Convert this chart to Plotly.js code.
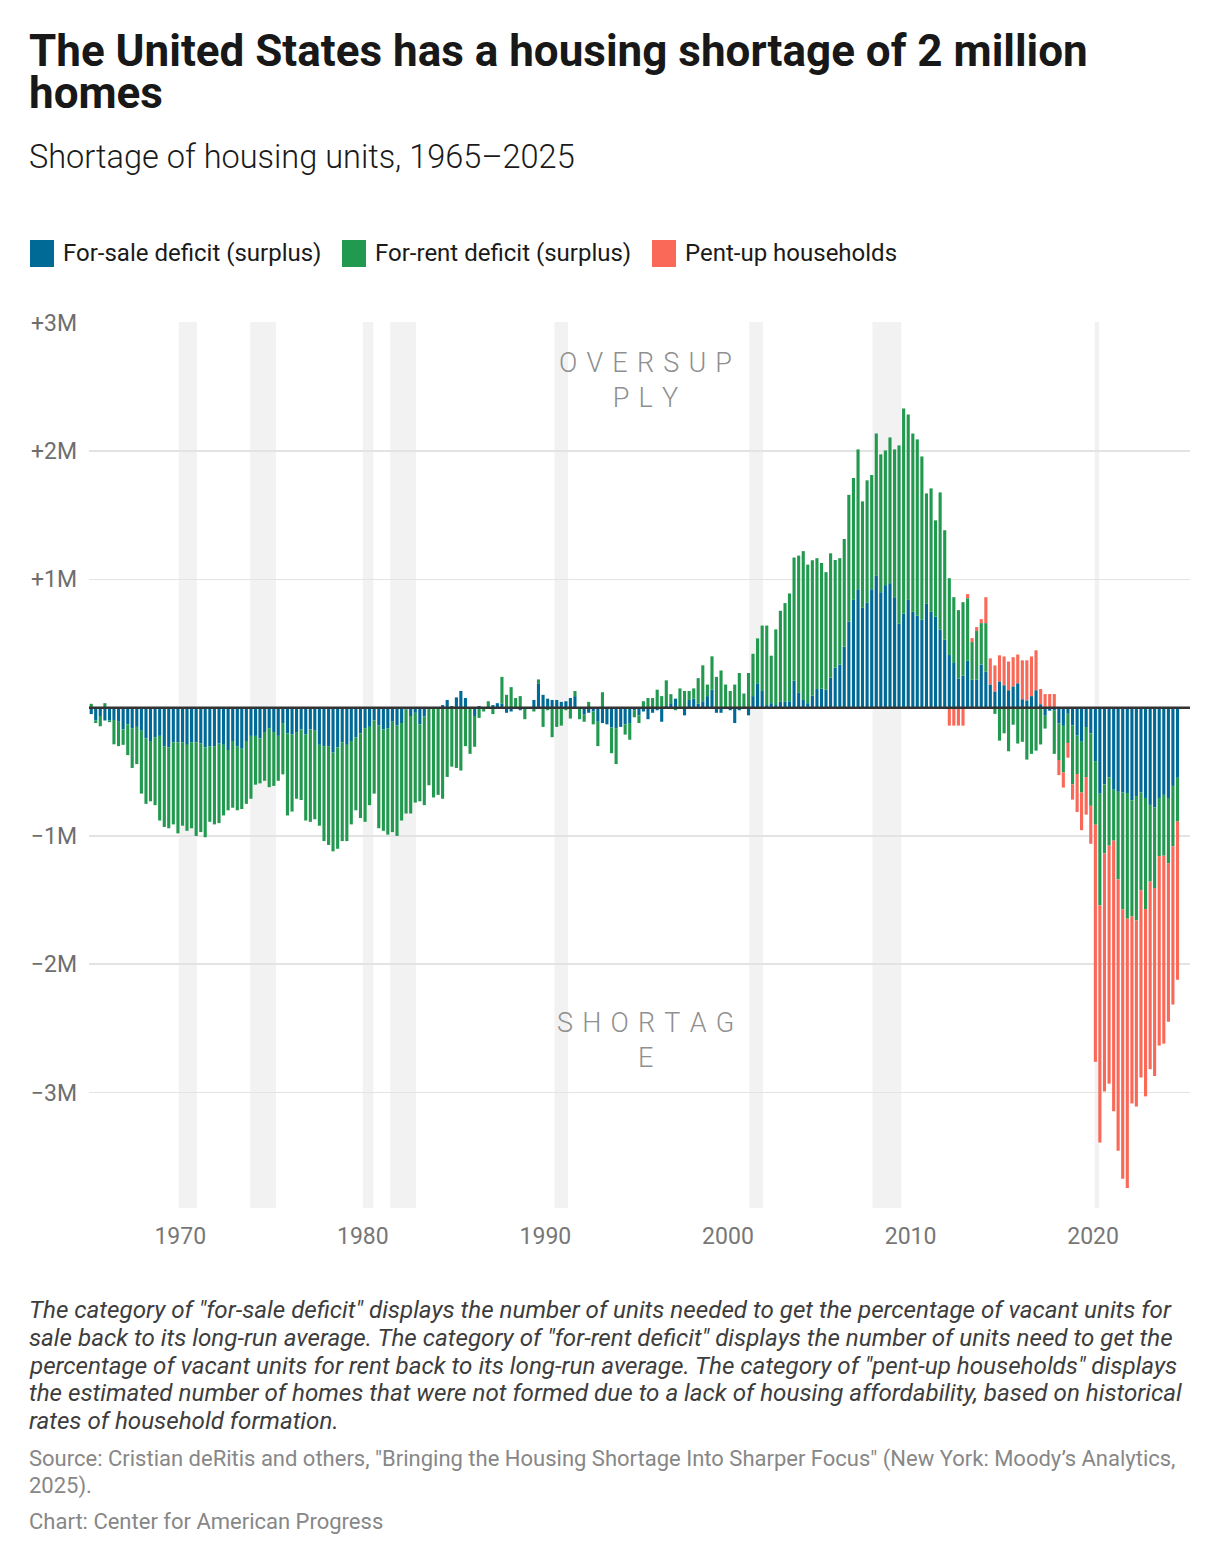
<!DOCTYPE html>
<html>
<head>
<meta charset="utf-8">
<script src="https://cdn.plot.ly/plotly-3.0.1.min.js"></script>
<style>
  body { margin: 0; background: #fff; }
  #plot { width: 1220px; height: 1564px; }
</style>
</head>
<body>
<div id="plot"></div>
<script>
// quarterly series, millions of units, 1965Q1 - 2024Q3
var forSale = [
  -0.05, -0.10, -0.065, -0.10,   -0.10, -0.096, -0.11, -0.17,      // 1965-66
  -0.13, -0.16, -0.15, -0.18,    -0.24, -0.26, -0.23, -0.22,       // 1967-68
  -0.30, -0.31, -0.27, -0.27,    -0.27, -0.29, -0.27, -0.27,       // 1969-70
  -0.28, -0.31, -0.30, -0.30,    -0.28, -0.29, -0.33, -0.26,       // 1971-72
  -0.30, -0.32, -0.26, -0.22,    -0.22, -0.24, -0.19, -0.16,       // 1973-74
  -0.19, -0.22, -0.12, -0.20,    -0.21, -0.19, -0.17, -0.21,       // 1975-76
  -0.17, -0.18, -0.29, -0.30,    -0.30, -0.35, -0.31, -0.27,       // 1977-78
  -0.29, -0.26, -0.23, -0.20,    -0.16, -0.15, -0.10, -0.14,       // 1979-80
  -0.17, -0.16, -0.11, -0.14,    -0.12, -0.015, -0.065, -0.04,     // 1981-82
  -0.13, -0.07, -0.005, 0,       -0.01, 0.02, 0.06, 0.013,         // 1983-84
  0.08, 0.13, 0.075, -0.01,      -0.065, 0.013, 0, 0,              // 1985-86
  0.02, 0.035, 0.03, -0.04,      -0.03, 0, -0.02, 0,               // 1987-88
  0, 0.06, 0.19, 0.10,           0.07, 0.06, 0.06, 0.045,          // 1989-90
  0.05, 0.075, 0.09, 0,          -0.055, -0.04, -0.03, -0.11,      // 1991-92
  -0.12, -0.13, -0.155, -0.16,   -0.15, -0.13, -0.12, -0.02,       // 1993-94
  -0.06, -0.03, -0.09, -0.04,    -0.02, -0.11, 0.013, 0.035,       // 1995-96
  0.07, 0, -0.06, 0.06,          0.07, 0.03, 0.05, 0.09,           // 1997-98
  0.14, -0.04, -0.04, 0,         -0.02, -0.12, -0.02, 0,           // 1999-2000
  -0.06, 0.09, 0.19, 0.13,       0.02, 0.035, 0.02, 0.045,         // 2001-02
  0.045, 0.05, 0.21, 0.115,      0.06, 0.035, 0.093, 0.145,        // 2003-04
  0.148, 0.14, 0.233, 0.311,     0.335, 0.475, 0.669, 0.84,        // 2005-06
  0.923, 0.778, 0.817, 0.923,    1.027, 0.90, 0.955, 0.97,         // 2007-08
  0.861, 0.654, 0.732, 0.84,     0.747, 0.716, 0.685, 0.809,       // 2009-10
  0.747, 0.708, 0.607, 0.529,    0.41, 0.348, 0.226, 0.249,        // 2011-12
  0.366, 0.218, 0.218, 0.335,    0.28, 0.181, 0.127, 0.205,        // 2013-14
  0.175, 0.136, 0.166, 0.19,     0.066, 0.057, 0.09, 0.136,        // 2015-16
  0.027, -0.063, -0.024, -0.02,  -0.124, -0.142, -0.048, -0.139,   // 2017-18
  -0.218, -0.266, -0.151, -0.20, -0.417, -0.671, -0.598, -0.544,   // 2019-20
  -0.64, -0.656, -0.662, -0.665, -0.722, -0.689, -0.662, -0.704,   // 2021-22
  -0.758, -0.776, -0.704, -0.68, -0.704, -0.61, -0.547             // 2023-24
];

var forRent = [
  0.03, -0.02, -0.08, 0.035,     -0.013, -0.19, -0.19, -0.12,      // 1965-66
  -0.24, -0.31, -0.29, -0.49,    -0.51, -0.47, -0.53, -0.66,       // 1967-68
  -0.63, -0.63, -0.64, -0.71,    -0.65, -0.67, -0.67, -0.73,       // 1969-70
  -0.69, -0.70, -0.59, -0.61,    -0.62, -0.55, -0.47, -0.52,       // 1971-72
  -0.50, -0.47, -0.49, -0.49,    -0.38, -0.35, -0.38, -0.46,       // 1973-74
  -0.42, -0.35, -0.40, -0.64,    -0.60, -0.52, -0.55, -0.67,       // 1975-76
  -0.72, -0.69, -0.63, -0.74,    -0.77, -0.77, -0.79, -0.77,       // 1977-78
  -0.75, -0.65, -0.57, -0.66,    -0.73, -0.61, -0.57, -0.80,       // 1979-80
  -0.79, -0.83, -0.86, -0.86,    -0.76, -0.81, -0.76, -0.70,       // 1981-82
  -0.60, -0.69, -0.60, -0.70,    -0.67, -0.71, -0.54, -0.46,       // 1983-84
  -0.47, -0.49, -0.30, -0.35,    -0.24, -0.08, -0.03, 0.05,        // 1985-86
  -0.05, 0, 0.21, 0.10,          0.16, 0.075, 0.09, -0.09,         // 1987-88
  0, -0.03, 0.03, -0.15,         -0.02, -0.23, -0.15, -0.14,       // 1989-90
  -0.02, -0.085, 0.04, -0.09,    -0.055, 0.045, -0.10, -0.19,      // 1991-92
  0.12, 0, -0.20, -0.28,         0, -0.08, -0.13, -0.055,          // 1993-94
  -0.06, 0.05, 0.075, 0.075,     0.14, 0.09, 0.20, 0.07,           // 1995-96
  -0.02, 0.15, 0.13, 0.07,       0.08, 0.20, 0.28, 0.09,           // 1997-98
  0.26, 0.24, 0.29, 0.18,        0.13, 0.18, 0.27, 0.11,           // 1999-2000
  0.27, 0.33, 0.35, 0.51,        0.62, 0.37, 0.59, 0.71,           // 2001-02
  0.77, 0.84, 0.96, 1.07,        1.16, 1.08, 1.056, 1.02,          // 2003-04
  0.98, 0.916, 0.97, 0.84,       0.83, 0.84, 0.99, 0.95,           // 2005-06
  1.09, 0.83, 0.955, 0.89,       1.11, 1.074, 1.05, 1.136,         // 2007-08
  1.152, 1.39, 1.60, 1.445,      1.39, 1.375, 1.273, 0.861,        // 2009-10
  0.962, 0.752, 1.071, 0.854,    0.599, 0.513, 0.534, 0.573,       // 2011-12
  0.487, 0.293, 0.379, 0.324,    0.379, 0, -0.048, -0.257,         // 2013-14
  -0.20, -0.34, -0.133, -0.28,   -0.266, -0.405, -0.36, -0.335,    // 2015-16
  -0.287, -0.10, 0, -0.34,       -0.284, -0.363, -0.227, -0.46,    // 2017-18
  -0.299, -0.396, -0.39, -0.565, -0.495, -0.87, -0.538, -0.532,    // 2019-20
  -0.396, -0.683, -0.91, -0.98,  -0.906, -0.97, -0.761, -0.866,    // 2021-22
  -0.598, -0.63, -0.453, -0.474, -0.508, -0.471, -0.341            // 2023-24
];

// pent-up households only from 2012Q1
var pentUpStart = 2012;
var pentUp = [
  -0.14, -0.14, -0.14, -0.14,      // 2012
  0.032, 0.031, 0.031, 0.031,      // 2013
  0.202, 0.203, 0.202, 0.203,      // 2014
  0.224, 0.224, 0.227, 0.224,      // 2015
  0.303, 0.312, 0.309, 0.311,      // 2016
  0.118, 0.106, 0.106, 0.106,      // 2017
  -0.118, -0.118, -0.115, -0.118,  // 2018
  -0.296, -0.293, -0.293, -0.296,  // 2019
  -1.849, -1.849, -1.855, -1.855,  // 2020
  -2.11, -2.115, -2.10, -2.10,     // 2021
  -1.457, -1.45, -1.46, -1.46,     // 2022
  -1.462, -1.465, -1.477, -1.465,  // 2023
  -1.236, -1.233, -1.233           // 2024
];

var recessions = [
  ['1969-12-01', '1970-11-30'], ['1973-11-01', '1975-03-31'],
  ['1980-01-01', '1980-07-31'], ['1981-07-01', '1982-11-30'],
  ['1990-07-01', '1991-03-31'], ['2001-03-01', '2001-11-30'],
  ['2007-12-01', '2009-06-30'], ['2020-02-01', '2020-04-30']
];

var yTickVals = [-3, -2, -1, 1, 2, 3];
var yTickText = ['\u22123M', '\u22122M', '\u22121M', '+1M', '+2M', '+3M'];
var xTickYears = [1970, 1980, 1990, 2000, 2010, 2020];

var titleLines = ['The United States has a housing shortage of 2 million', 'homes'];
var noteLines = [
  'The category of "for-sale deficit" displays the number of units needed to get the percentage of vacant units for',
  'sale back to its long-run average. The category of "for-rent deficit" displays the number of units need to get the',
  'percentage of vacant units for rent back to its long-run average. The category of "pent-up households" displays',
  'the estimated number of homes that were not formed due to a lack of housing affordability, based on historical',
  'rates of household formation.'
];
var sourceLines = [
  'Source: Cristian deRitis and others, "Bringing the Housing Shortage Into Sharper Focus" (New York: Moody\u2019s Analytics,',
  '2025).'
];

// mid-quarter dates
var quarters = [];
for (var yr = 1965; yr <= 2024; yr++) {
  ['02', '05', '08', '11'].forEach(function (m) { quarters.push(yr + '-' + m + '-15'); });
}
quarters = quarters.slice(0, forSale.length);
var pentUpDates = quarters.slice(quarters.indexOf(pentUpStart + '-02-15'));

var blue = '#006a96', green = '#21994f', red = '#fa6858';

var data = [
  { type: 'bar', name: 'For-sale deficit (surplus)', x: quarters, y: forSale, marker: { color: blue } },
  { type: 'bar', name: 'For-rent deficit (surplus)', x: quarters, y: forRent, marker: { color: green } },
  { type: 'bar', name: 'Pent-up households', x: pentUpDates, y: pentUp, marker: { color: red } }
];

// page geometry (pixels) -> paper coordinates
var L = 89, R = 30, T = 322, B = 356, PW = 1220 - L - R, PH = 1564 - T - B;
function px(x) { return (x - L) / PW; }
function py(y) { return (T + PH - y) / PH; }

var font = 'Roboto, "Noto Sans", sans-serif';

var shapes = recessions.map(function (r) {
  return { type: 'rect', xref: 'x', yref: 'paper', x0: r[0], x1: r[1], y0: 0, y1: 1,
           fillcolor: '#f2f2f2', line: { width: 0 }, layer: 'below' };
});
shapes.push({ type: 'line', xref: 'paper', yref: 'y', x0: 0, x1: 1, y0: 0, y1: 0,
              line: { color: '#333333', width: 2.5 }, layer: 'above' });

var legendItems = [[30, blue, 'For-sale deficit (surplus)'], [342, green, 'For-rent deficit (surplus)'], [652, red, 'Pent-up households']];
var annotations = [];
legendItems.forEach(function (it) {
  shapes.push({ type: 'rect', xref: 'paper', yref: 'paper', x0: px(it[0]), x1: px(it[0] + 24),
                y0: py(267), y1: py(240), fillcolor: it[1], line: { width: 0 } });
  annotations.push({ xref: 'paper', yref: 'paper', x: px(it[0] + 31), y: py(253), xanchor: 'left', yanchor: 'middle',
                     text: it[2], showarrow: false, font: { family: font, size: 24, color: '#1a1a1a' } });
});

function note(text, x, y, size, color, extra, yanchor) {
  var a = { xref: 'paper', yref: 'paper', x: px(x), y: py(y), xanchor: 'left', yanchor: yanchor || 'middle', align: 'left',
            text: text, showarrow: false, font: { family: font, size: size, color: color } };
  for (var k in extra) a.font[k] = extra[k];
  annotations.push(a);
}

// title as one two-line text; its line gap is tightened after drawing
note(titleLines.join('<br>'), 27, 23, 44, '#181818', { weight: 700 }, 'top');
note('Shortage of housing units, 1965\u20132025', 27, 157, 32.5, '#1a1a1a', { weight: 300 });

var sp = '\u2004';
annotations.push({ xref: 'paper', yref: 'paper', x: px(645), y: py(380), xanchor: 'center', yanchor: 'middle',
  text: ['O', 'V', 'E', 'R', 'S', 'U', 'P'].join(sp) + '<br>' + ['P', 'L', 'Y'].join(sp),
  showarrow: false, font: { family: font, size: 27, color: '#8f8f8f', weight: 300 } });
annotations.push({ xref: 'paper', yref: 'paper', x: px(645), y: py(1040), xanchor: 'center', yanchor: 'middle',
  text: ['S', 'H', 'O', 'R', 'T', 'A', 'G'].join(sp) + '<br>E',
  showarrow: false, font: { family: font, size: 27, color: '#8f8f8f', weight: 300 } });

noteLines.forEach(function (t, i) {
  note(t, 27, 1310 + i * 27.8, 24.2, '#3d3d3d', { style: 'italic' });
});
sourceLines.forEach(function (t, i) {
  note(t, 27, 1459 + i * 27, 22, '#878787');
});
note('Chart: Center for American Progress', 27, 1521, 22, '#878787');

var layout = {
  width: 1220, height: 1564,
  margin: { l: L, r: R, t: T, b: B },
  paper_bgcolor: '#ffffff', plot_bgcolor: '#ffffff',
  font: { family: font, color: '#333' },
  showlegend: false,
  barmode: 'relative', bargap: 0.3,
  xaxis: {
    type: 'date', range: ['1965-01-01', '2025-04-22'],
    tickvals: xTickYears.map(function (y) { return y + '-01-01'; }),
    ticktext: xTickYears.map(String),
    showgrid: false, zeroline: false, showline: false, ticks: '',
    ticklabelstandoff: 12,
    tickfont: { family: font, size: 23, color: '#777777' }
  },
  yaxis: {
    range: [-3.9, 3.006],
    tickvals: yTickVals, ticktext: yTickText,
    showgrid: true, gridcolor: '#e3e3e3', gridwidth: 1.5,
    zeroline: false, showline: false, ticks: '',
    ticklabelstandoff: 11,
    tickfont: { family: font, size: 23, color: '#6e6e6e' }
  },
  shapes: shapes,
  annotations: annotations
};

Plotly.newPlot('plot', data, layout, { displayModeBar: false, staticPlot: true }).then(function (gd) {
  // headline uses a tight line height, as in the original
  gd.querySelectorAll('.annotation-text').forEach(function (t) {
    var lines = t.querySelectorAll('tspan.line');
    if (lines.length === 2 && lines[1].textContent === titleLines[1]) {
      lines[1].setAttribute('dy', '0.96em');
    }
  });
});
</script>
</body>
</html>
